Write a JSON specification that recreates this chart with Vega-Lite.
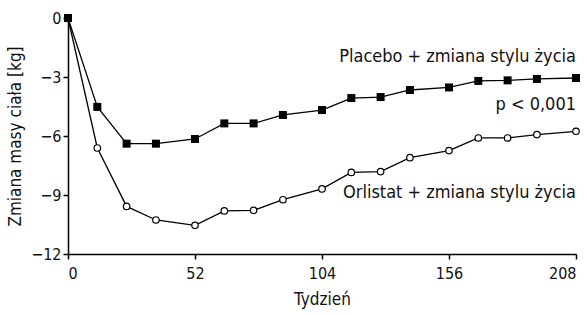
{
  "$schema": "https://vega.github.io/schema/vega-lite/v6.json",
  "width": 508,
  "height": 236,
  "autosize": {"type": "none"},
  "padding": {"left": 68, "top": 18, "right": 11, "bottom": 61},
  "background": "white",
  "config": {
    "view": {"stroke": null},
    "font": "DejaVu Sans Condensed, Roboto, sans-serif",
    "axis": {
      "domainColor": "black", "tickColor": "black", "grid": false,
      "labelFont": "DejaVu Sans Condensed, Roboto, sans-serif", "titleFont": "DejaVu Sans Condensed, Roboto, sans-serif",
      "labelFontSize": 16, "titleFontSize": 17, "labelColor": "#111", "titleColor": "#111",
      "titleFontWeight": "normal", "domainWidth": 1.5, "tickWidth": 1.5, "tickSize": 5
    }
  },
  "datasets": {
    "series": [
      {"week": 0, "kg": 0, "lo": 0, "hi": 0, "group": "Placebo"},
      {"week": 12, "kg": -4.52, "lo": -4.62, "hi": -4.42, "group": "Placebo"},
      {"week": 24, "kg": -6.39, "lo": -6.52, "hi": -6.26, "group": "Placebo"},
      {"week": 36, "kg": -6.39, "lo": -6.52, "hi": -6.26, "group": "Placebo"},
      {"week": 52, "kg": -6.15, "lo": -6.29, "hi": -6.01, "group": "Placebo"},
      {"week": 64, "kg": -5.36, "lo": -5.5, "hi": -5.22, "group": "Placebo"},
      {"week": 76, "kg": -5.36, "lo": -5.5, "hi": -5.22, "group": "Placebo"},
      {"week": 88, "kg": -4.93, "lo": -5.07, "hi": -4.79, "group": "Placebo"},
      {"week": 104, "kg": -4.68, "lo": -4.83, "hi": -4.53, "group": "Placebo"},
      {"week": 116, "kg": -4.07, "lo": -4.22, "hi": -3.92, "group": "Placebo"},
      {"week": 128, "kg": -4.02, "lo": -4.17, "hi": -3.87, "group": "Placebo"},
      {"week": 140, "kg": -3.66, "lo": -3.81, "hi": -3.51, "group": "Placebo"},
      {"week": 156, "kg": -3.53, "lo": -3.69, "hi": -3.37, "group": "Placebo"},
      {"week": 168, "kg": -3.2, "lo": -3.36, "hi": -3.04, "group": "Placebo"},
      {"week": 180, "kg": -3.17, "lo": -3.33, "hi": -3.01, "group": "Placebo"},
      {"week": 192, "kg": -3.1, "lo": -3.26, "hi": -2.94, "group": "Placebo"},
      {"week": 208, "kg": -3.05, "lo": -3.21, "hi": -2.89, "group": "Placebo"},
      {"week": 0, "kg": 0, "lo": 0, "hi": 0, "group": "Orlistat"},
      {"week": 12, "kg": -6.61, "lo": -6.72, "hi": -6.5, "group": "Orlistat"},
      {"week": 24, "kg": -9.58, "lo": -9.7, "hi": -9.46, "group": "Orlistat"},
      {"week": 36, "kg": -10.27, "lo": -10.42, "hi": -10.12, "group": "Orlistat"},
      {"week": 52, "kg": -10.54, "lo": -10.7, "hi": -10.38, "group": "Orlistat"},
      {"week": 64, "kg": -9.81, "lo": -9.97, "hi": -9.65, "group": "Orlistat"},
      {"week": 76, "kg": -9.78, "lo": -9.94, "hi": -9.62, "group": "Orlistat"},
      {"week": 88, "kg": -9.24, "lo": -9.4, "hi": -9.08, "group": "Orlistat"},
      {"week": 104, "kg": -8.69, "lo": -8.86, "hi": -8.52, "group": "Orlistat"},
      {"week": 116, "kg": -7.85, "lo": -8.02, "hi": -7.68, "group": "Orlistat"},
      {"week": 128, "kg": -7.81, "lo": -7.98, "hi": -7.64, "group": "Orlistat"},
      {"week": 140, "kg": -7.1, "lo": -7.27, "hi": -6.93, "group": "Orlistat"},
      {"week": 156, "kg": -6.74, "lo": -6.91, "hi": -6.57, "group": "Orlistat"},
      {"week": 168, "kg": -6.1, "lo": -6.27, "hi": -5.93, "group": "Orlistat"},
      {"week": 180, "kg": -6.1, "lo": -6.27, "hi": -5.93, "group": "Orlistat"},
      {"week": 192, "kg": -5.93, "lo": -6.1, "hi": -5.76, "group": "Orlistat"},
      {"week": 208, "kg": -5.76, "lo": -5.93, "hi": -5.59, "group": "Orlistat"}
    ],
    "labels": [
      {"week": 208, "kg": -2.0, "label": "Placebo + zmiana stylu życia"},
      {"week": 208, "kg": -4.41, "label": "p < 0,001"},
      {"week": 208, "kg": -8.88, "label": "Orlistat + zmiana stylu życia"}
    ]
  },
  "layer": [
    {
      "data": {"name": "series"},
      "mark": {"type": "line", "color": "black", "strokeWidth": 1.3},
      "encoding": {
        "x": {"field": "week", "type": "quantitative", "scale": {"domain": [0, 208], "nice": false},
              "axis": {"values": [0, 52, 104, 156, 208], "title": "Tydzień", "titlePadding": 10, "labelPadding": 6}},
        "y": {"field": "kg", "type": "quantitative", "scale": {"domain": [-12, 0], "nice": false},
              "axis": {"values": [0, -3, -6, -9, -12], "title": "Zmiana masy ciała [kg]", "titlePadding": 6, "labelPadding": 2}},
        "detail": {"field": "group"}
      }
    },
    {
      "data": {"name": "series"},
      "mark": {"type": "rule", "color": "black", "strokeWidth": 1},
      "encoding": {
        "x": {"field": "week", "type": "quantitative"},
        "y": {"field": "lo", "type": "quantitative"},
        "y2": {"field": "hi"}
      }
    },
    {
      "data": {"name": "series"},
      "transform": [{"filter": "datum.group == 'Orlistat'"}],
      "mark": {"type": "point", "shape": "circle", "filled": true, "fill": "white", "stroke": "black", "strokeWidth": 1.2, "size": 42, "opacity": 1},
      "encoding": {
        "x": {"field": "week", "type": "quantitative"},
        "y": {"field": "kg", "type": "quantitative"}
      }
    },
    {
      "data": {"name": "series"},
      "transform": [{"filter": "datum.group == 'Placebo'"}],
      "mark": {"type": "point", "shape": "square", "filled": true, "color": "black", "size": 64, "opacity": 1},
      "encoding": {
        "x": {"field": "week", "type": "quantitative"},
        "y": {"field": "kg", "type": "quantitative"}
      }
    },
    {
      "data": {"name": "labels"},
      "mark": {"type": "text", "align": "right", "baseline": "middle", "fontSize": 18, "color": "#111", "font": "DejaVu Sans Condensed, Roboto, sans-serif"},
      "encoding": {
        "x": {"field": "week", "type": "quantitative"},
        "y": {"field": "kg", "type": "quantitative"},
        "text": {"field": "label"}
      }
    }
  ]
}
